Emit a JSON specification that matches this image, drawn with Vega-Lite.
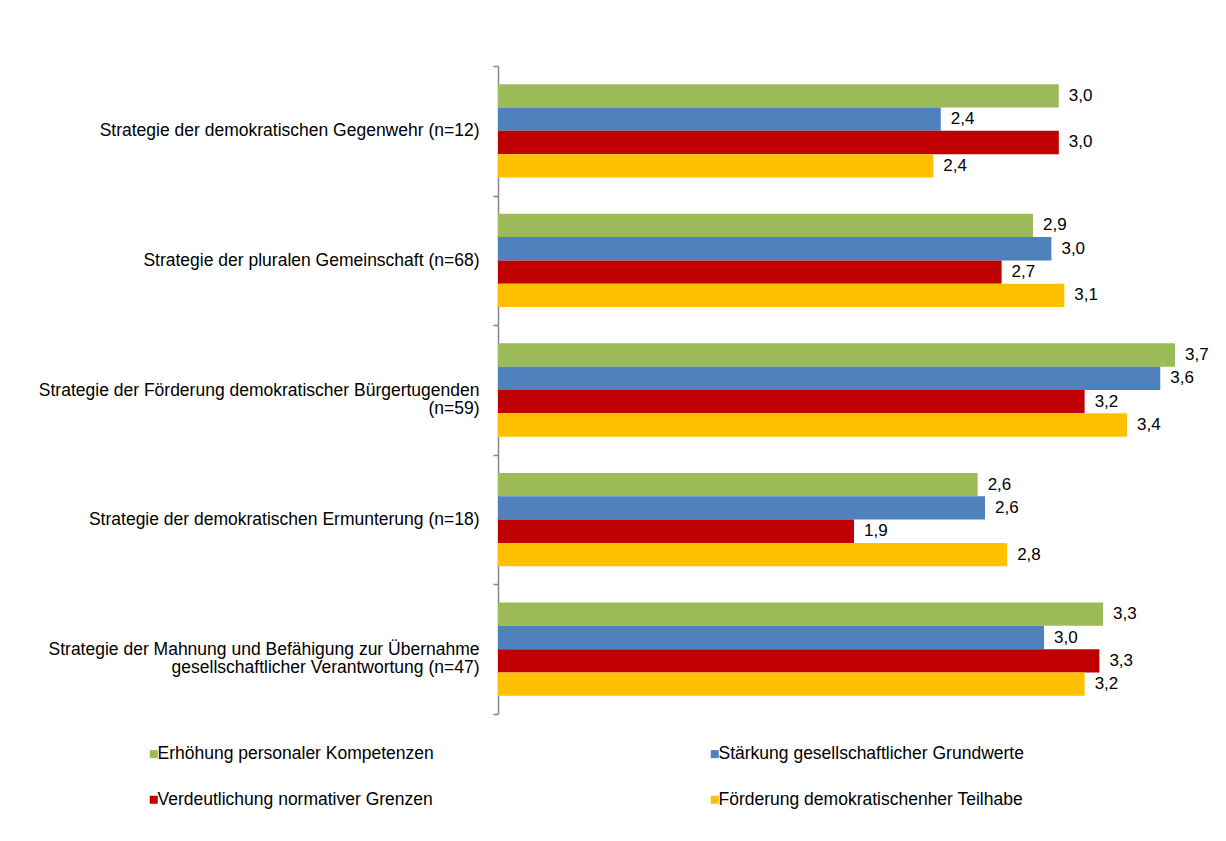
{
  "$schema": "https://vega.github.io/schema/vega-lite/v6.json",
  "autosize": {"type": "none"},
  "width": 701,
  "height": 648,
  "padding": {"left": 498, "top": 66, "right": 27, "bottom": 127},
  "background": "white",
  "config": {
    "view": {"stroke": null},
    "font": "Liberation Sans",
    "locale": {"number": {"decimal": ",", "thousands": ".", "grouping": [3], "currency": ["", " €"]}}
  },
  "data": {
    "values": [
      {"strategie": "Strategie der demokratischen Gegenwehr  (n=12)", "ziel": "Erhöhung personaler Kompetenzen", "wert": 3.04},
      {"strategie": "Strategie der demokratischen Gegenwehr  (n=12)", "ziel": "Stärkung gesellschaftlicher Grundwerte", "wert": 2.40},
      {"strategie": "Strategie der demokratischen Gegenwehr  (n=12)", "ziel": "Verdeutlichung normativer Grenzen", "wert": 3.04},
      {"strategie": "Strategie der demokratischen Gegenwehr  (n=12)", "ziel": "Förderung demokratischenher Teilhabe", "wert": 2.36},
      {"strategie": "Strategie der pluralen Gemeinschaft (n=68)", "ziel": "Erhöhung personaler Kompetenzen", "wert": 2.90},
      {"strategie": "Strategie der pluralen Gemeinschaft (n=68)", "ziel": "Stärkung gesellschaftlicher Grundwerte", "wert": 3.00},
      {"strategie": "Strategie der pluralen Gemeinschaft (n=68)", "ziel": "Verdeutlichung normativer Grenzen", "wert": 2.73},
      {"strategie": "Strategie der pluralen Gemeinschaft (n=68)", "ziel": "Förderung demokratischenher Teilhabe", "wert": 3.07},
      {"strategie": "Strategie der Förderung demokratischer Bürgertugenden\n(n=59)", "ziel": "Erhöhung personaler Kompetenzen", "wert": 3.67},
      {"strategie": "Strategie der Förderung demokratischer Bürgertugenden\n(n=59)", "ziel": "Stärkung gesellschaftlicher Grundwerte", "wert": 3.59},
      {"strategie": "Strategie der Förderung demokratischer Bürgertugenden\n(n=59)", "ziel": "Verdeutlichung normativer Grenzen", "wert": 3.18},
      {"strategie": "Strategie der Förderung demokratischer Bürgertugenden\n(n=59)", "ziel": "Förderung demokratischenher Teilhabe", "wert": 3.41},
      {"strategie": "Strategie der demokratischen Ermunterung  (n=18)", "ziel": "Erhöhung personaler Kompetenzen", "wert": 2.60},
      {"strategie": "Strategie der demokratischen Ermunterung  (n=18)", "ziel": "Stärkung gesellschaftlicher Grundwerte", "wert": 2.64},
      {"strategie": "Strategie der demokratischen Ermunterung  (n=18)", "ziel": "Verdeutlichung normativer Grenzen", "wert": 1.93},
      {"strategie": "Strategie der demokratischen Ermunterung  (n=18)", "ziel": "Förderung demokratischenher Teilhabe", "wert": 2.76},
      {"strategie": "Strategie der Mahnung und Befähigung zur Übernahme\ngesellschaftlicher Verantwortung (n=47)", "ziel": "Erhöhung personaler Kompetenzen", "wert": 3.28},
      {"strategie": "Strategie der Mahnung und Befähigung zur Übernahme\ngesellschaftlicher Verantwortung (n=47)", "ziel": "Stärkung gesellschaftlicher Grundwerte", "wert": 2.96},
      {"strategie": "Strategie der Mahnung und Befähigung zur Übernahme\ngesellschaftlicher Verantwortung (n=47)", "ziel": "Verdeutlichung normativer Grenzen", "wert": 3.26},
      {"strategie": "Strategie der Mahnung und Befähigung zur Übernahme\ngesellschaftlicher Verantwortung (n=47)", "ziel": "Förderung demokratischenher Teilhabe", "wert": 3.18}
    ]
  },
  "encoding": {
    "y": {
      "field": "strategie",
      "type": "nominal",
      "sort": null,
      "scale": {"paddingInner": 0, "paddingOuter": 0},
      "axis": {
        "title": null,
        "labelExpr": "indexof(datum.label, '\\n') < 0 ? datum.label : [split(datum.label, '\\n')[0], pad(split(datum.label, '\\n')[1], length(split(datum.label, '\\n')[1]) + (indexof(datum.label, '(n=59)') >= 0 ? 22 : 7), '\u2002')]",
        "labelFontSize": 17.5,
        "labelColor": "#000000",
        "labelLimit": 0,
        "labelLineHeight": 18,
        "labelPadding": 14,
        "labelAlign": "right",
        "tickBand": "extent",
        "tickSize": 5,
        "tickColor": "#868686",
        "tickWidth": 1.5,
        "domainColor": "#868686",
        "domainWidth": 1.5,
        "grid": false
      }
    },
    "yOffset": {
      "field": "ziel",
      "type": "nominal",
      "sort": ["Erhöhung personaler Kompetenzen", "Stärkung gesellschaftlicher Grundwerte", "Verdeutlichung normativer Grenzen", "Förderung demokratischenher Teilhabe"],
      "scale": {"paddingInner": 0, "paddingOuter": 0.778}
    },
    "x": {
      "field": "wert",
      "type": "quantitative",
      "scale": {"domain": [0, 3.8], "nice": false, "zero": true},
      "axis": null
    }
  },
  "layer": [
    {
      "mark": {"type": "bar"},
      "encoding": {
        "color": {
          "field": "ziel",
          "type": "nominal",
          "sort": ["Erhöhung personaler Kompetenzen", "Stärkung gesellschaftlicher Grundwerte", "Verdeutlichung normativer Grenzen", "Förderung demokratischenher Teilhabe"],
          "scale": {
            "domain": ["Erhöhung personaler Kompetenzen", "Stärkung gesellschaftlicher Grundwerte", "Verdeutlichung normativer Grenzen", "Förderung demokratischenher Teilhabe"],
            "range": ["#9BBB59", "#4F81BD", "#C00000", "#FFC000"]
          },
          "legend": {
            "title": null,
            "orient": "none",
            "legendX": -353,
            "legendY": 679,
            "direction": "horizontal",
            "columns": 2,
            "symbolType": "square",
            "symbolSize": 64,
            "symbolStrokeWidth": 0,
            "symbolOpacity": 1,
            "labelFontSize": 17.5,
            "labelColor": "#000000",
            "labelOffset": -5,
            "labelLimit": 0,
            "rowPadding": 27,
            "columnPadding": 272
          }
        }
      }
    },
    {
      "mark": {"type": "text", "align": "left", "baseline": "middle", "dx": 10, "fontSize": 17, "color": "#000000"},
      "encoding": {
        "text": {"field": "wert", "type": "quantitative", "format": ".1f"}
      }
    }
  ]
}
